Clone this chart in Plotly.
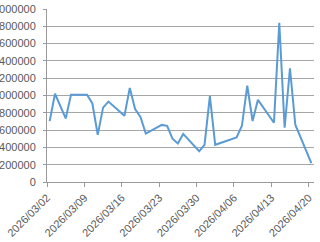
import plotly.graph_objects as go
import pandas as pd

dates = ["2026-03-02", "2026-03-03", "2026-03-05", "2026-03-06", "2026-03-09", "2026-03-10",
         "2026-03-11", "2026-03-12", "2026-03-13", "2026-03-16", "2026-03-17", "2026-03-18",
         "2026-03-19", "2026-03-20", "2026-03-23", "2026-03-24", "2026-03-25", "2026-03-26",
         "2026-03-27", "2026-03-30", "2026-03-31", "2026-04-01", "2026-04-02", "2026-04-06",
         "2026-04-07", "2026-04-08", "2026-04-09", "2026-04-10", "2026-04-13", "2026-04-14",
         "2026-04-15", "2026-04-16", "2026-04-17", "2026-04-20"]
values = [704000, 1020000, 735000, 1010000, 1010000, 908000,
          545000, 860000, 930000, 765000, 1088000, 844000,
          752000, 560000, 660000, 650000, 500000, 446000,
          556000, 356000, 430000, 992000, 430000, 515000,
          650000, 1113000, 705000, 950000, 685000, 1840000,
          627000, 1315000, 662000, 218000]

# Excel-style date axis: each point sits in the middle of its day slot
x = pd.to_datetime(dates) + pd.Timedelta(hours=12)

fig = go.Figure()
fig.add_trace(go.Scatter(x=x, y=values, mode="lines",
                         line=dict(color="#5B9BD5", width=2), hoverinfo="skip"))

font = dict(family="Liberation Sans, Arial, sans-serif", size=11, color="#595959")
fig.update_layout(
    template="none",
    width=320, height=242,
    margin=dict(l=47, r=6, t=9, b=60),
    paper_bgcolor="white", plot_bgcolor="white",
    showlegend=False,
    font=font,
    xaxis=dict(
        type="date",
        range=["2026-03-02", "2026-04-21"],
        tick0="2026-03-02", dtick=7 * 86400000,
        tickformat="%Y/%m/%d", tickangle=-45,
        showgrid=False, zeroline=False,
        showline=True, linecolor="#9a9a9a", linewidth=1,
        ticks="outside", ticklen=4, tickcolor="#9a9a9a",
        automargin=False, tickfont=font, ticklabeloverflow="allow",
    ),
    yaxis=dict(
        range=[0, 2000000], dtick=200000, tickformat="d",
        showgrid=True, gridcolor="#a6a6a6", gridwidth=1,
        zeroline=False,
        showline=True, linecolor="#9a9a9a", linewidth=1,
        ticks="outside", ticklen=3, tickcolor="#9a9a9a",
        ticklabelstandoff=5,
        automargin=False, tickfont=font, ticklabeloverflow="allow",
    ),
)

fig.write_html("out.html")
